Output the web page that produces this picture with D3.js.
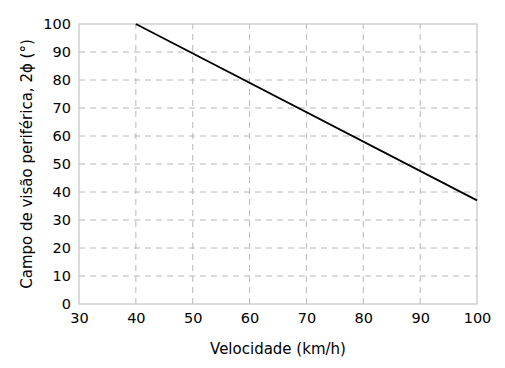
<!DOCTYPE html>
<html>
<head>
<meta charset="utf-8">
<script src="https://cdn.jsdelivr.net/npm/d3@7"></script>
<style>
  body { margin: 0; background: #fff; }
  svg text { font-family: "DejaVu Sans", sans-serif; fill: #000; }
</style>
</head>
<body>
<div id="chart"></div>
<script>
// data
const speed = [40, 100];          // km/h
const fieldOfView = [100, 37];    // degrees
const xTicks = [30, 40, 50, 60, 70, 80, 90, 100];
const yTicks = [0, 10, 20, 30, 40, 50, 60, 70, 80, 90, 100];

const width = 505, height = 368;
const margin = {top: 24, right: 28, bottom: 64, left: 79};

const svg = d3.select("#chart")
  .append("svg")
  .attr("width", width)
  .attr("height", height);

const x = d3.scaleLinear()
  .domain([30, 100])
  .range([margin.left, width - margin.right]);
const y = d3.scaleLinear()
  .domain([0, 100])
  .range([height - margin.bottom, margin.top]);

// dashed grid
svg.append("g")
  .selectAll("line")
  .data(xTicks.slice(1, -1))
  .enter()
  .append("line")
  .attr("x1", d => x(d)).attr("x2", d => x(d))
  .attr("y1", y(0)).attr("y2", y(100))
  .attr("stroke", "#b8b8b8")
  .attr("stroke-dasharray", "6 5");
svg.append("g")
  .selectAll("line")
  .data(yTicks.slice(1, -1))
  .enter()
  .append("line")
  .attr("x1", x(30)).attr("x2", x(100))
  .attr("y1", d => y(d)).attr("y2", d => y(d))
  .attr("stroke", "#b8b8b8")
  .attr("stroke-dasharray", "6 5");

// frame
svg.append("rect")
  .attr("x", x(30))
  .attr("y", y(100))
  .attr("width", x(100) - x(30))
  .attr("height", y(0) - y(100))
  .attr("fill", "none")
  .attr("stroke", "#c4c4c4")
  .attr("stroke-width", 1.2);

// axes (labels only)
const xAxis = svg.append("g")
  .attr("transform", `translate(0,${y(0)})`)
  .call(d3.axisBottom(x).tickValues(xTicks).tickSize(0).tickPadding(9));
const yAxis = svg.append("g")
  .attr("transform", `translate(${x(30)},0)`)
  .call(d3.axisLeft(y).tickValues(yTicks).tickSize(0).tickPadding(8));
[xAxis, yAxis].forEach(g => {
  g.select(".domain").remove();
  g.selectAll("text")
    .attr("font-size", "14.5px")
    .attr("font-family", "DejaVu Sans, sans-serif")
    .attr("fill", "#000");
});

// the curve
const pts = speed.map((s, i) => [s, fieldOfView[i]]);
svg.append("path")
  .datum(pts)
  .attr("fill", "none")
  .attr("stroke", "#000")
  .attr("stroke-width", 1.8)
  .attr("d", d3.line().x(d => x(d[0])).y(d => y(d[1])));

// titles
svg.append("text")
  .attr("x", (x(30) + x(100)) / 2)
  .attr("y", 354)
  .attr("text-anchor", "middle")
  .attr("font-size", "15px")
  .text("Velocidade (km/h)");

svg.append("text")
  .attr("transform", "rotate(-90)")
  .attr("x", -(y(0) + y(100)) / 2)
  .attr("y", 32)
  .attr("text-anchor", "middle")
  .attr("font-size", "15px")
  .text("Campo de visão periférica, 2ϕ (°)");
</script>
</body>
</html>
